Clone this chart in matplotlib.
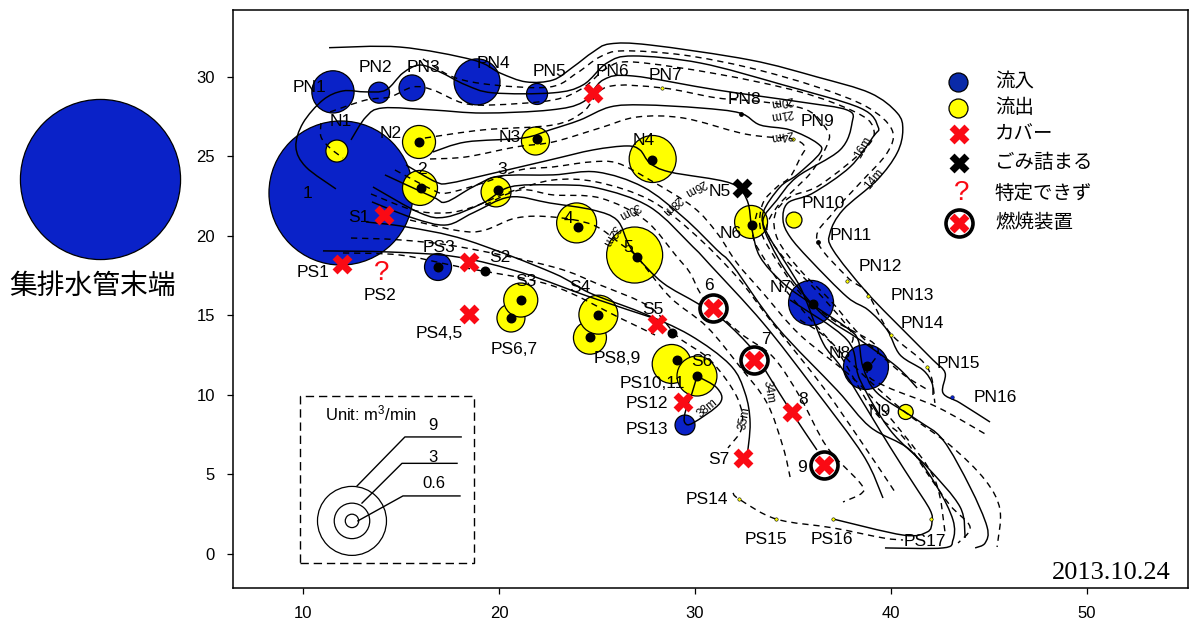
"""Landfill gas survey map, 2013.10.24."""

import numpy as np
import matplotlib
matplotlib.use('Agg')
import matplotlib.pyplot as plt
from matplotlib.path import Path
from matplotlib.patches import PathPatch, Rectangle

plt.rcParams['font.family'] = ['Liberation Sans', 'Noto Sans CJK JP', 'DejaVu Sans']
plt.rcParams['mathtext.default'] = 'regular'

W, H = 1191, 627
BLUE = '#0a22c8'
YELLOW = '#ffff00'
RED = '#fa0a14'

# --- flow points: x, y, flow in m3/min ---
INFLOW_X = [11.53, 13.88, 15.56, 18.88, 21.94, 11.94, 16.89, 35.92, 38.72, 29.49]
INFLOW_Y = [29.06, 29.01, 29.31, 29.69, 28.93, 22.7, 18.05, 15.79, 11.76, 8.11]
INFLOW_Q = [4.0, 1.26, 1.79, 4.6, 1.26, 30.4, 1.91, 4.44, 4.44, 1.16]

OUTFLOW_X = [11.73, 15.92, 21.86, 15.97, 19.85, 27.84, 23.96, 26.92, 32.86, 35.05,
             40.75, 28.81, 30.1, 20.61, 21.11, 24.64, 25.07]
OUTFLOW_Y = [25.34, 25.91, 25.97, 23.02, 22.77, 24.84, 20.82, 18.8, 20.88, 21.0,
             8.93, 11.95, 11.19, 14.84, 15.97, 13.6, 15.05]
OUTFLOW_Q = [1.36, 2.66, 2.03, 2.93, 2.27, 4.77, 3.65, 6.38, 2.66, 0.8,
             0.72, 3.5, 3.65, 2.03, 2.8, 2.66, 3.5]

COVER_X = [24.78, 14.12, 11.97, 18.47, 18.47, 28.05, 29.39, 34.93, 32.45]
COVER_Y = [29.01, 21.32, 18.24, 18.38, 15.09, 14.46, 9.56, 8.95, 6.04]
BURNER_X = [30.9, 32.99, 36.57]
BURNER_Y = [15.47, 12.2, 5.62]
BLOCKED_X = [32.4]
BLOCKED_Y = [23.02]

WELL_X = [15.92, 21.94, 16.02, 19.95, 27.81, 24.03, 27.04, 32.91, 36.02, 38.77,
          16.89, 19.29, 20.61, 21.11, 24.64, 25.07, 29.07, 30.1, 28.83]
WELL_Y = [25.91, 26.1, 23.02, 22.89, 24.78, 20.57, 18.68, 20.69, 15.72, 11.82,
          18.05, 17.8, 14.81, 15.97, 13.67, 15.05, 12.2, 11.19, 13.92]
TINY_BLACK_X = [32.35, 36.28]
TINY_BLACK_Y = [27.67, 19.62]
TINY_BLUE_X = [43.11]
TINY_BLUE_Y = [9.87]
TINY_YELLOW_X = [28.32, 35.0, 37.76, 38.83, 39.99, 41.84, 32.24, 34.13, 37.04, 42.02]
TINY_YELLOW_Y = [29.31, 26.1, 17.17, 16.2, 13.79, 11.78, 3.46, 2.2, 2.2, 2.2]

# --- contours ---
SOLID_A = [(11.33, 31.84), (14.95, 31.88), (18.67, 31.07), (20.05, 30.25), (21.38, 29.69),
           (22.76, 29.81), (23.78, 30.63), (24.8, 31.57), (25.66, 32.08), (27.7, 32.01),
           (32.8, 31.07), (36.22, 30.0), (38.93, 28.99), (40.31, 27.74), (40.6, 26.67),
           (40.31, 25.22), (39.29, 23.52), (37.55, 21.64), (36.89, 20.19), (37.04, 19.12),
           (38.78, 16.42), (40.97, 13.65), (42.14, 12.2), (42.76, 11.38), (42.65, 10.13),
           (43.52, 9.5), (45.05, 8.3)]
SOLID_B = [(11.68, 22.96), (10.15, 24.34), (9.64, 25.6), (10.0, 27.1), (11.02, 28.55),
           (12.04, 29.12), (13.2, 29.06), (14.23, 29.18), (15.1, 30.25), (15.97, 30.75),
           (16.99, 30.31), (18.3, 29.5), (19.69, 29.0), (22.76, 29.0), (24.29, 29.5),
           (25.51, 30.88), (26.84, 31.32), (30.26, 30.88), (34.49, 29.5), (38.42, 28.05),
           (39.34, 26.86), (39.08, 26.23), (37.91, 24.34), (36.02, 22.7), (34.74, 22.08),
           (34.49, 21.0), (34.85, 19.94), (35.87, 18.49), (37.76, 16.16), (38.83, 15.35),
           (39.8, 14.09), (40.46, 12.52), (41.63, 11.57), (42.09, 10.75), (42.14, 10.0)]
SOLID_C = [(12.45, 26.04), (13.21, 27.48), (14.08, 28.05), (16.63, 27.92), (19.18, 27.73),
           (22.6, 27.92), (24.29, 28.43), (25.31, 29.81), (26.84, 30.06), (31.12, 29.18),
           (35.36, 28.43), (37.76, 27.92), (38.01, 27.11), (37.4, 25.41), (35.2, 23.71),
           (34.18, 22.26), (33.47, 21.0), (33.83, 19.56), (34.85, 17.42), (36.53, 15.03),
           (38.42, 13.46), (40.31, 11.76), (41.33, 10.44)]
SOLID_D = [(16.63, 25.28), (18.32, 25.91), (21.22, 26.16), (22.6, 26.67), (24.13, 27.29),
           (25.66, 28.11), (27.35, 28.24), (30.26, 28.05), (32.3, 27.73), (33.32, 26.98),
           (34.85, 26.67), (36.22, 25.85), (36.38, 25.22), (35.2, 23.84), (34.34, 23.08),
           (33.47, 21.45), (33.67, 20.19), (34.85, 17.86), (35.51, 16.41), (36.53, 13.27),
           (37.55, 11.57), (39.95, 6.73), (41.12, 4.47), (41.99, 2.77), (42.09, 2.01),
           (41.84, 1.38), (40.61, 1.19), (37.04, 2.2)]
SOLID_E = [(15.26, 24.46), (16.79, 23.39), (17.5, 23.33), (19.34, 23.84), (22.6, 24.78),
           (24.8, 25.41), (26.53, 25.66), (27.19, 25.41), (27.7, 24.59), (28.72, 24.02),
           (31.79, 23.33), (32.65, 22.26), (32.91, 20.38), (33.32, 18.68), (34.49, 17.04),
           (36.02, 15.66), (37.76, 14.21), (38.32, 13.46), (38.57, 11.76), (39.29, 10.13),
           (41.33, 8.43), (42.65, 7.17), (44.03, 4.21), (44.9, 1.7), (44.8, 0.69), (44.29, 0.38)]
SOLID_F = [(34.85, 15.97), (37.76, 13.46), (38.42, 10.94), (39.95, 7.8), (41.84, 5.47),
           (43.52, 2.96), (43.78, 1.01)]
SOLID_G = [(14.18, 23.84), (16.63, 22.45), (17.3, 22.14), (18.67, 23.08), (20.05, 23.77),
           (22.76, 23.84), (25.0, 24.02), (27.35, 23.08), (29.39, 21.19), (31.12, 19.12),
           (31.94, 18.11), (34.18, 14.28), (37.24, 10.31), (38.93, 7.99), (40.97, 6.54),
           (42.35, 4.21), (43.16, 2.14), (43.16, 0.88), (42.65, 0.38), (39.69, 0.38)]
SOLID_H = [(13.57, 23.08), (15.97, 21.45), (17.3, 21.19), (19.18, 22.07), (20.56, 23.08),
           (22.76, 23.21), (25.0, 23.02), (27.7, 21.82), (29.9, 19.31), (30.77, 18.18),
           (33.47, 14.53), (36.02, 10.5), (38.57, 6.23), (39.59, 3.52)]
SOLID_I = [(13.52, 22.14), (15.61, 21.13), (17.3, 20.69), (18.67, 21.45), (20.56, 22.45),
           (22.6, 22.07), (24.8, 21.63), (26.02, 21.0), (26.58, 19.56), (27.04, 18.68),
           (28.37, 17.04), (30.1, 15.78), (31.43, 14.72), (32.96, 12.83), (33.67, 11.38),
           (34.85, 9.06), (36.22, 6.54)]
SOLID_J = [(13.21, 20.88), (15.26, 20.57), (18.32, 19.75), (22.76, 17.67), (24.64, 16.41),
           (27.19, 15.22), (29.73, 13.77), (31.79, 11.89), (32.55, 10.13), (32.81, 8.24),
           (32.65, 6.04)]
SOLID_K = [(11.02, 19.06), (14.44, 18.99), (17.86, 18.68), (21.22, 17.67), (24.64, 16.16),
           (27.86, 14.84)]
SOLID_L = [(30.1, 11.19), (31.12, 10.44), (31.28, 9.5), (29.9, 8.24), (29.49, 8.24),
           (29.49, 8.87), (29.85, 10.13), (30.1, 11.19)]

DASH_A = [(16.12, 31.13), (17.65, 30.0), (19.69, 29.5), (22.6, 29.37), (23.98, 30.25),
          (25.15, 31.26), (26.33, 31.64), (29.39, 31.38), (32.8, 30.57), (36.22, 29.37),
          (38.78, 28.11), (40.05, 26.67), (39.8, 25.22), (38.42, 23.33), (37.04, 21.45),
          (36.22, 19.75), (37.76, 17.42), (38.78, 16.42), (39.95, 13.9), (41.84, 11.76),
          (42.24, 9.5)]
DASH_B = [(11.38, 27.8), (13.21, 28.55), (14.44, 28.74), (15.61, 29.37), (16.63, 29.18),
          (18.16, 28.36), (19.69, 28.24), (22.76, 28.55), (24.29, 29.31), (25.51, 30.56),
          (26.84, 30.94), (31.12, 30.19), (35.36, 29.06), (38.16, 27.8), (39.08, 26.85),
          (38.77, 25.6), (36.38, 23.21), (34.85, 22.45), (34.08, 21.32), (34.23, 19.75),
          (35.36, 17.86), (36.89, 15.97), (38.42, 13.77), (40.46, 11.45), (41.89, 10.31)]
DASH_C = [(16.22, 26.16), (19.18, 26.67), (22.76, 26.98), (24.29, 27.8), (25.51, 29.37),
          (28.32, 29.31), (31.12, 28.68), (33.47, 28.43), (35.71, 27.92), (36.73, 26.67),
          (36.78, 25.85), (36.02, 24.15), (35.2, 23.08), (34.18, 21.82), (33.67, 20.38),
          (34.49, 18.68), (36.02, 16.79), (37.91, 14.09), (37.96, 13.14)]
DASH_D = [(16.48, 24.84), (18.32, 24.97), (20.87, 25.6), (22.76, 25.91), (25.15, 26.79),
          (27.04, 27.48), (29.39, 27.42), (32.3, 26.48), (33.67, 26.23), (35.0, 26.1),
          (35.61, 25.6), (35.36, 24.9), (34.85, 23.71), (34.18, 23.08), (33.47, 22.08),
          (33.32, 20.57), (33.83, 19.12), (35.36, 16.41), (37.04, 14.72), (39.29, 13.02),
          (38.78, 11.38), (39.8, 10.5), (42.35, 9.24), (44.8, 7.55)]
DASH_E = [(14.69, 24.15), (16.63, 22.89), (17.35, 22.7), (19.18, 23.33), (21.07, 24.15),
          (22.76, 24.34), (24.64, 24.65), (26.02, 24.59), (27.7, 23.52), (29.9, 21.82),
          (31.12, 20.19), (32.14, 18.3), (33.47, 16.41), (35.36, 13.77), (38.16, 10.94),
          (40.46, 7.8), (42.24, 4.65), (42.76, 1.32)]
DASH_F = [(13.47, 22.64), (15.61, 21.63), (17.3, 21.45), (18.67, 21.82), (20.56, 22.77),
          (22.76, 23.52), (25.0, 23.39), (27.7, 22.26), (29.9, 20.19), (32.14, 17.42),
          (33.83, 14.72), (36.53, 10.5), (38.42, 7.17), (40.2, 3.9)]
DASH_G = [(19.29, 21.95), (21.07, 22.89), (22.76, 22.58), (25.15, 22.39), (27.45, 21.0),
          (29.08, 18.68), (29.75, 17.67), (30.51, 15.97), (32.3, 13.9), (33.98, 12.39),
          (35.36, 9.87), (36.73, 6.73), (38.42, 4.47), (38.52, 3.84), (37.55, 3.27)]
DASH_H = [(15.46, 21.0), (18.67, 20.25), (20.87, 21.13), (22.76, 21.19), (24.8, 20.69),
          (26.28, 19.43), (27.04, 18.68), (28.72, 16.16), (30.61, 14.28), (32.3, 11.76),
          (33.67, 9.5), (34.49, 6.73), (34.85, 4.84)]
DASH_I = [(12.45, 19.87), (14.95, 19.75), (18.01, 19.31), (22.76, 18.05), (25.15, 16.92),
          (27.7, 15.53), (29.13, 13.65), (30.77, 12.2), (32.14, 9.87), (32.4, 7.99),
          (31.68, 6.67)]
DASH_J = [(12.04, 18.93), (14.95, 18.8), (18.01, 18.05), (22.6, 16.92), (26.17, 14.84),
          (27.96, 13.77)]
DASH_K = [(33.16, 21.45), (32.96, 19.94), (33.67, 18.3), (34.49, 16.79), (36.38, 14.09),
          (38.42, 11.45), (40.71, 8.93), (43.0, 6.85), (44.8, 4.65), (45.56, 2.77), (45.41, 0.44)]
DASH_L = [(35.36, 14.72), (37.04, 13.14), (39.08, 9.06), (40.61, 7.36), (41.73, 5.28),
          (43.0, 3.08), (44.03, 1.7), (43.42, 0.69)]
DASH_M = [(10.92, 27.1), (10.92, 26.23), (11.38, 25.53), (12.04, 24.9)]
DASH_N = [(31.94, 3.84), (32.24, 3.46), (34.13, 2.2), (37.04, 1.64), (39.59, 1.01), (40.61, 0.88)]

SOLID_LINES = [SOLID_A, SOLID_B, SOLID_C, SOLID_D, SOLID_E, SOLID_F,
               SOLID_G, SOLID_H, SOLID_I, SOLID_J, SOLID_K, SOLID_L]
DASH_LINES = [DASH_A, DASH_B, DASH_C, DASH_D, DASH_E, DASH_F, DASH_G,
              DASH_H, DASH_I, DASH_J, DASH_K, DASH_L, DASH_M, DASH_N]

# annotation text, placed in reference pixels
POINT_LABELS = [('PN1', 309, 87), ('PN2', 375, 68), ('PN3', 423, 68), ('PN4', 493, 64),
                ('PN5', 550, 71), ('PN6', 612, 71), ('PN7', 665, 75), ('PN8', 744, 99),
                ('PN9', 818, 122), ('PN10', 823, 203), ('PN11', 851, 236), ('PN12', 880, 266),
                ('PN13', 912, 295), ('PN14', 922, 324), ('PN15', 958, 364), ('PN16', 995, 397),
                ('N1', 341, 122), ('N2', 391, 133), ('N3', 510, 138), ('N4', 644, 141),
                ('N5', 720, 192), ('N6', 731, 234), ('N7', 781, 288), ('N8', 840, 353),
                ('N9', 880, 411), ('1', 308, 193), ('2', 422, 170), ('3', 502, 170),
                ('4', 568, 219), ('5', 628, 248), ('6', 709, 285), ('7', 766, 340),
                ('8', 803, 400), ('9', 802, 468), ('S1', 359, 218), ('S2', 500, 258),
                ('S3', 526, 282), ('S4', 580, 288), ('S5', 653, 309), ('S6', 702, 361),
                ('S7', 719, 460), ('PS1', 313, 273), ('PS2', 380, 295), ('PS3', 439, 247),
                ('PS4,5', 439, 334), ('PS6,7', 514, 349), ('PS8,9', 617, 359),
                ('PS10,11', 652, 383), ('PS12', 647, 404), ('PS13', 647, 429),
                ('PS14', 707, 500), ('PS15', 766, 540), ('PS16', 832, 540), ('PS17', 925, 541)]
CONTOUR_LABELS = [('20m', 782, 101, 190), ('21m', 782, 114, 190), ('24m', 782, 135, 190),
                  ('16m', 863, 147, 60), ('14m', 874, 179, 50), ('26m', 695, 187, 210),
                  ('28m', 671, 205, 225), ('30m', 629, 210, 210), ('32m', 610, 235, 240),
                  ('34m', 768, 392, 280), ('35m', 745, 418, 80), ('38m', 707, 408, 40)]
LEGEND_NAMES = ['流入', '流出', 'カバー', 'ごみ詰まる', '特定できず', '燃焼装置']
LEGEND_Y = [29.69, 28.05, 26.41, 24.59, 22.7, 20.82]
SCALE_Q = [9, 3, 0.6]
SCALE_LABELS = ['9', '3', '0.6']


def flow_size(q):
    # marker area in points^2 from flow, radius in px = 9.13 * q^0.605
    r_px = 9.13 * np.asarray(q, dtype=float) ** 0.605
    return (2 * r_px * 0.72) ** 2


def smooth_path(points):
    # Catmull-Rom segments written as Bezier curves
    p = np.array(points)
    p = np.vstack([p[0], p, p[-1]])
    verts = [p[1]]
    codes = [Path.MOVETO]
    for i in range(1, len(p) - 2):
        verts += [p[i] + (p[i + 1] - p[i - 1]) / 6, p[i + 1] - (p[i + 2] - p[i]) / 6, p[i + 1]]
        codes += [Path.CURVE4] * 3
    return Path(verts, codes)


def px_text(fig, s, px, py, **kw):
    fig.text(px / W, 1 - py / H, s, ha='center', va='center', zorder=8, **kw)


def main():
    fig = plt.figure(figsize=(W / 100, H / 100), dpi=100)
    ax = fig.add_axes([233 / W, 1 - 588 / H, 955 / W, 578 / H])
    ax.set_xlim(6.43, 55.15)
    ax.set_ylim(-2.14, 34.21)
    ax.set_xticks([10, 20, 30, 40, 50])
    ax.set_yticks([0, 5, 10, 15, 20, 25, 30])
    ax.tick_params(labelsize=12, length=4, width=0.9, pad=9)
    for sp in ax.spines.values():
        sp.set_linewidth(1.1)

    ax.scatter(INFLOW_X, INFLOW_Y, s=flow_size(INFLOW_Q), c=BLUE, edgecolors='black', linewidths=0.9, zorder=2)
    ax.scatter(OUTFLOW_X, OUTFLOW_Y, s=flow_size(OUTFLOW_Q), c=YELLOW, edgecolors='black', linewidths=0.9, zorder=2)

    for line in SOLID_LINES:
        ax.add_patch(PathPatch(smooth_path(line), fill=False, ec='black', lw=1.05, zorder=3))
    for line in DASH_LINES:
        ax.add_patch(PathPatch(smooth_path(line), fill=False, ec='black', lw=1.0,
                               linestyle=(0, (4.5, 3.5)), zorder=3))

    ax.scatter(WELL_X, WELL_Y, s=38, c='black', zorder=4)
    ax.scatter(TINY_BLACK_X, TINY_BLACK_Y, s=6, c='black', zorder=4)
    ax.scatter(TINY_BLUE_X, TINY_BLUE_Y, s=7, c=BLUE, edgecolors='black', linewidths=0.3, zorder=4)
    ax.scatter(TINY_YELLOW_X, TINY_YELLOW_Y, s=6, c=YELLOW, edgecolors='black', linewidths=0.4, zorder=4)

    ax.scatter(BURNER_X, BURNER_Y, s=(27 * 0.72) ** 2, c='white', edgecolors='black', linewidths=2.6, zorder=5)
    ax.scatter(COVER_X + BURNER_X, COVER_Y + BURNER_Y, s=205, marker='X', c=RED, linewidths=0, zorder=6)
    ax.scatter(BLOCKED_X, BLOCKED_Y, s=205, marker='X', c='black', linewidths=0, zorder=6)

    # big circle for the collection pipe end, outside the axes
    ax.scatter([-0.36], [23.58], s=flow_size(36.2), c=BLUE, edgecolors='black', linewidths=0.9,
               clip_on=False, zorder=2)
    px_text(fig, '集排水管末端', 92, 286, fontsize=20, family=['Noto Sans CJK JP', 'DejaVu Sans'])

    # legend
    ax.scatter([43.42], [LEGEND_Y[0]], s=(19 * 0.72) ** 2, c='#0a2aa8', edgecolors='black', linewidths=0.9, zorder=5)
    ax.scatter([43.42], [LEGEND_Y[1]], s=(19 * 0.72) ** 2, c=YELLOW, edgecolors='black', linewidths=0.9, zorder=5)
    ax.scatter([43.47], [LEGEND_Y[2]], s=205, marker='X', c=RED, linewidths=0, zorder=5)
    ax.scatter([43.47], [LEGEND_Y[3]], s=205, marker='X', c='black', linewidths=0, zorder=5)
    ax.scatter([43.47], [LEGEND_Y[5]], s=(27 * 0.72) ** 2, c='white', edgecolors='black', linewidths=2.6, zorder=5)
    ax.scatter([43.47], [LEGEND_Y[5]], s=205, marker='X', c=RED, linewidths=0, zorder=6)
    px_text(fig, '?', 962, 193, fontsize=20, color=RED)
    for name, y in zip(LEGEND_NAMES, LEGEND_Y):
        ax.text(45.3, y, name, fontsize=14, va='center', ha='left',
                family=['Noto Sans CJK JP', 'DejaVu Sans'], zorder=8)

    # scale box
    ax.add_patch(Rectangle((9.85, -0.57), 8.88, 10.5, fill=False, ec='black', lw=1.0,
                           linestyle=(0, (6, 3.5)), zorder=3))
    ax.scatter([12.5] * 3, [2.08] * 3, s=flow_size(SCALE_Q), facecolors='none',
               edgecolors='black', linewidths=0.9, zorder=3)
    for lx, ly in [((12.76, 15.2, 18.07), (4.28, 7.36, 7.36)),
                   ((13.01, 15.05, 17.86), (3.2, 5.7, 5.7)),
                   ((12.8, 15.1, 18.01), (2.08, 3.65, 3.65))]:
        ax.plot(lx, ly, color='black', lw=1.0, zorder=3)
    px_text(fig, 'Unit: m$^3$/min', 371, 413, fontsize=12)
    for s, px, py in zip(SCALE_LABELS, [433, 433, 434], [426, 457, 484]):
        px_text(fig, s, px, py, fontsize=12)

    px_text(fig, '?', 382, 273, fontsize=20, color=RED)
    for s, px, py in POINT_LABELS:
        px_text(fig, s, px, py, fontsize=12.5)
    for s, px, py, rot in CONTOUR_LABELS:
        px_text(fig, s, px, py, fontsize=8.5, rotation=rot)
    px_text(fig, '2013.10.24', 1111, 573, fontsize=19, family='Liberation Serif')

    fig.savefig('out.png', dpi=100, facecolor='white')
    plt.close()


if __name__ == '__main__':
    main()
